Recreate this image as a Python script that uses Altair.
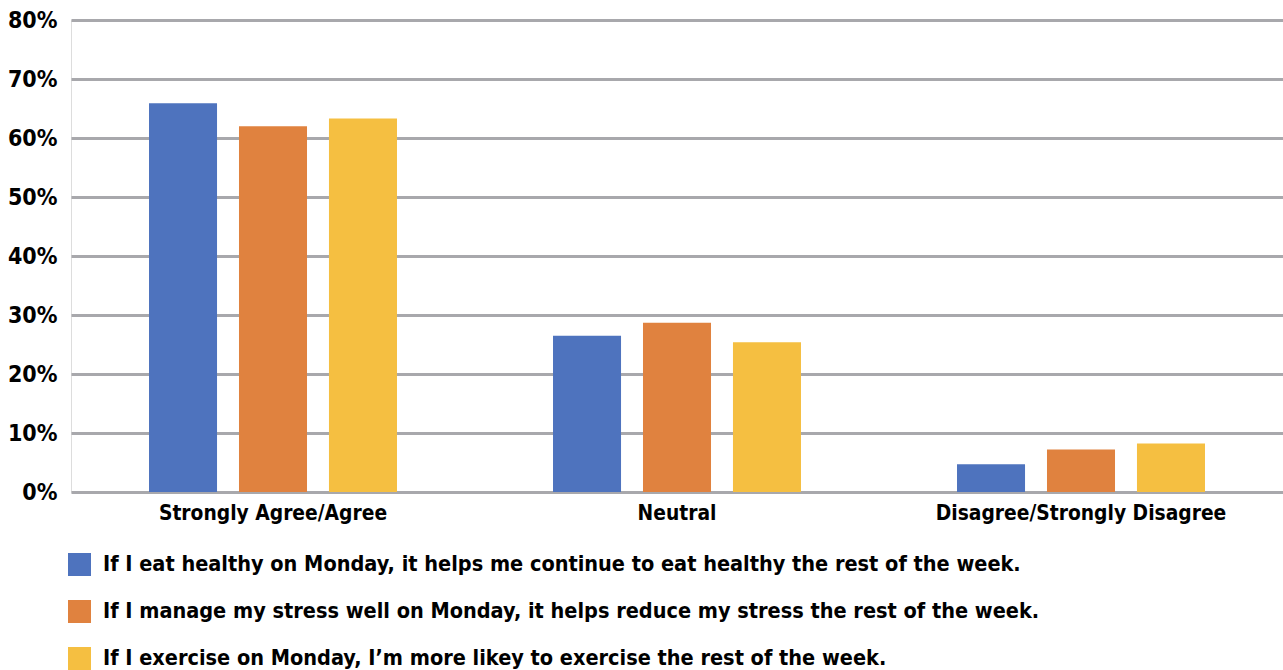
import altair as alt
import pandas as pd

# Survey response groups along the x axis
categories = ["Strongly Agree/Agree", "Neutral", "Disagree/Strongly Disagree"]

# Statements (one bar series each)
statements = [
    "If I eat healthy on Monday, it helps me continue to eat healthy the rest of the week.",
    "If I manage my stress well on Monday, it helps reduce my stress the rest of the week.",
    "If I exercise on Monday, I\u2019m more likey to exercise the rest of the week.",
]

# Share of respondents (%) per response group
eat_healthy = [65.9, 26.5, 4.7]
manage_stress = [62.0, 28.7, 7.2]
exercise = [63.3, 25.4, 8.2]

y_ticks = [0, 0.1, 0.2, 0.3, 0.4, 0.5, 0.6, 0.7, 0.8]
colors = ["#4E73BE", "#E0823F", "#F5BF41"]

rows = []
for statement, series in zip(statements, [eat_healthy, manage_stress, exercise]):
    for cat, v in zip(categories, series):
        rows.append({"category": cat, "statement": statement, "share": v / 100})
df = pd.DataFrame(rows)

FONT = "DejaVu Sans Condensed, Liberation Sans Narrow, sans-serif"

chart = (
    alt.Chart(df)
    .mark_bar()
    .encode(
        x=alt.X(
            "category:N",
            sort=categories,
            scale=alt.Scale(paddingInner=0, paddingOuter=0),
            axis=alt.Axis(
                title=None, labelAngle=0, ticks=False, domain=False, grid=False,
                labelFont=FONT, labelFontSize=20.8, labelFontWeight="bold",
                labelColor="#000000", labelPadding=11, labelLimit=600,
            ),
        ),
        xOffset=alt.XOffset(
            "statement:N",
            sort=statements,
            scale=alt.Scale(paddingInner=0.244, paddingOuter=0.867),
        ),
        y=alt.Y(
            "share:Q",
            scale=alt.Scale(domain=[0, 0.8], nice=False),
            axis=alt.Axis(
                title=None, values=y_ticks, format=".0%", ticks=False, domain=False,
                grid=True, gridColor="#A8A8AC", gridWidth=3,
                labelFont=FONT, labelFontSize=23, labelFontWeight="bold",
                labelColor="#000000", labelPadding=14,
            ),
        ),
        color=alt.Color(
            "statement:N",
            sort=statements,
            scale=alt.Scale(domain=statements, range=colors),
            legend=alt.Legend(
                title=None, orient="none", legendX=-3, legendY=533,
                direction="vertical", symbolType="square", symbolSize=529,
                symbolStrokeWidth=0, labelFont=FONT, labelFontSize=21.5,
                labelFontWeight="bold", labelColor="#000000", labelOffset=12,
                rowPadding=24, padding=0, labelLimit=1200,
            ),
        ),
    )
    .properties(
        width=1212,
        height=472,
        autosize=alt.AutoSizeParams(type="none"),
        padding={"left": 71, "top": 20, "right": 0, "bottom": 178},
    )
    .configure_view(strokeWidth=0, stroke="transparent", fill="transparent")
    .configure_axis(domain=False)
    .configure_axisX(grid=False)
    .configure_axisBand(grid=False)
    .configure(background="#FFFFFF")
)

chart.save("out.html", embed_options={"renderer": "svg", "actions": False})
